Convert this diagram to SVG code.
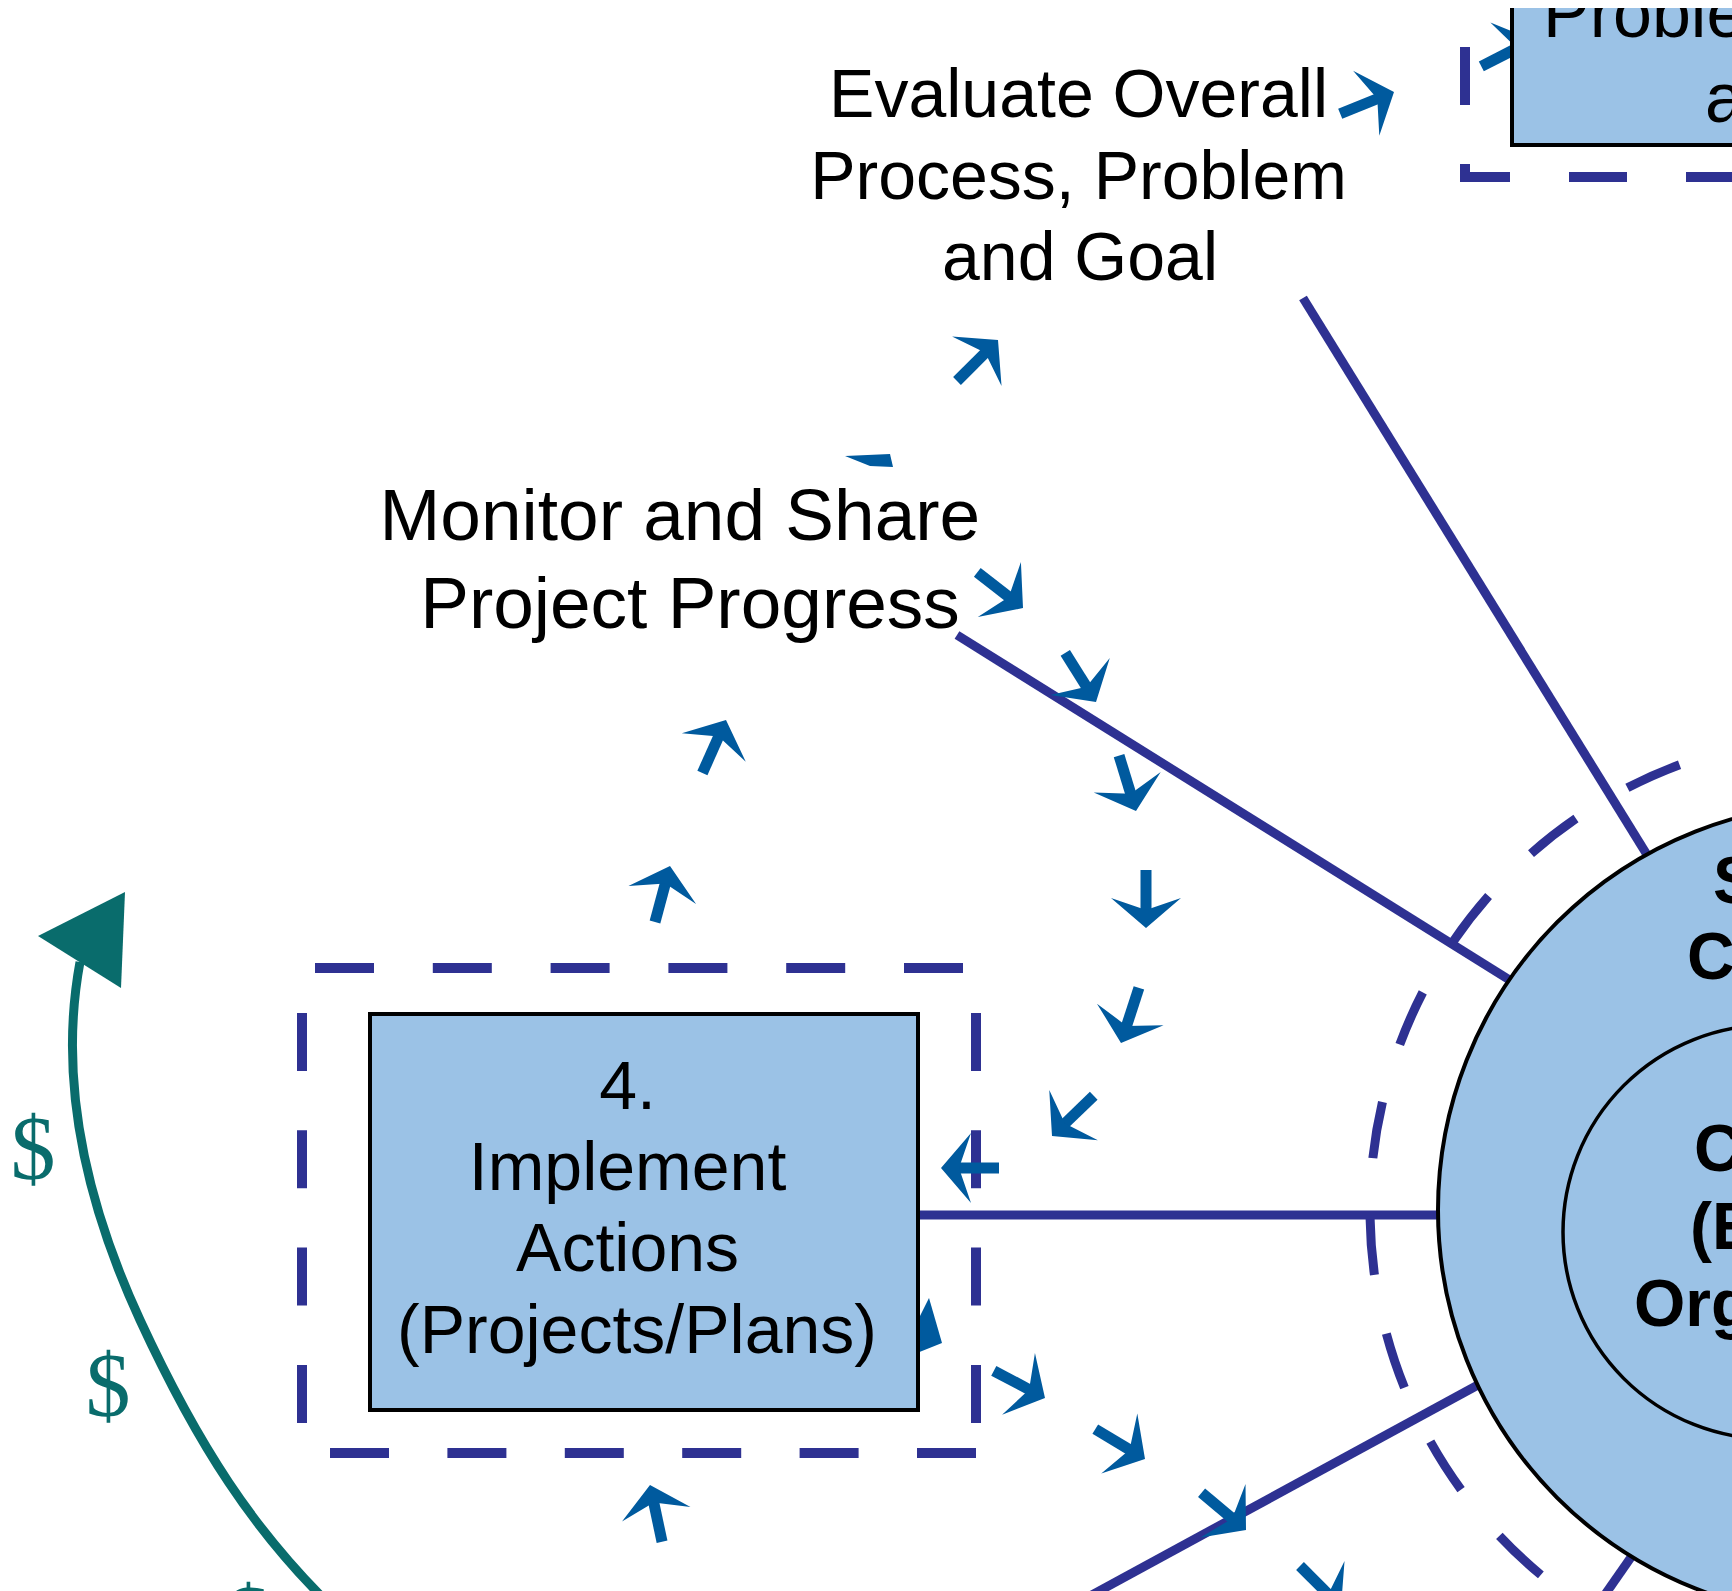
<svg xmlns="http://www.w3.org/2000/svg" width="1732" height="1591" viewBox="0 0 1732 1591">
<style>
.lbl{font-family:"Liberation Sans",Arial,sans-serif;fill:#000}
.bold{font-family:"Liberation Sans",Arial,sans-serif;font-weight:bold;fill:#000;font-size:66px}
.box{fill:#9BC2E6;stroke:#000;stroke-width:4}
.dash{fill:none;stroke:#2E3192;stroke-width:10}
.conn{fill:none;stroke:#2E3192;stroke-width:9}
.arr{fill:#005A9E}
.teal{fill:none;stroke:#096C6C;stroke-width:9}
.dollar{font-family:"Liberation Serif","DejaVu Serif",serif;fill:#096C6C;font-size:90px;text-anchor:middle}
</style>
<defs>
<g id="arrow"><rect x="-58" y="-5.5" width="42" height="11"/><polygon points="0,0 -30,-35 -18,0 -30,35"/></g>
<clipPath id="topclip"><rect x="0" y="8" width="1732" height="1583"/></clipPath>
</defs>
<rect width="1732" height="1591" fill="#fff"/>

<g id="community-boundary">
<circle cx="1845" cy="1210" r="475" fill="none" stroke="#2E3192" stroke-width="9" stroke-dasharray="57 60" stroke-dashoffset="94"/>
</g>

<g id="connectors">
<line class="conn" x1="1303" y1="298" x2="1670" y2="892"/>
<line class="conn" x1="957" y1="635" x2="1540" y2="999"/>
<line class="conn" x1="918" y1="1215" x2="1460" y2="1215"/>
<line class="conn" x1="1090" y1="1596" x2="1500" y2="1373"/>
<line class="conn" x1="1604" y1="1596" x2="1650" y2="1530"/>
</g>

<g id="stakeholder-circle">
<circle cx="1845" cy="1210" r="407" fill="#9BC2E6" stroke="#000" stroke-width="4"/>
<text class="bold" x="1713" y="903">S</text>
<text class="bold" x="1687" y="979">C</text>
</g>
<g id="core-circle">
<circle cx="1770" cy="1232" r="207" fill="#9BC2E6" stroke="#000" stroke-width="3.5"/>
<text class="bold" x="1694" y="1171">C</text>
<text class="bold" x="1690" y="1249">(E</text>
<text class="bold" x="1634" y="1326">Org</text>
</g>

<g id="arrow-hidden-4" class="arr">
<polygon points="917,1353 919,1318 929,1298 942,1343"/>
</g>

<g id="step4">
<line class="dash" x1="315" y1="968" x2="963" y2="968" stroke-dasharray="59 58.8"/>
<line class="dash" x1="976" y1="1013" x2="976" y2="1423" stroke-dasharray="58 59.3"/>
<line class="dash" x1="302" y1="1013" x2="302" y2="1423" stroke-dasharray="58 59.3"/>
<line class="dash" x1="330" y1="1453" x2="976" y2="1453" stroke-dasharray="59 58.4"/>
<rect class="box" x="370" y="1014" width="548" height="396"/>
<text class="lbl" font-size="68" text-anchor="middle">
<tspan x="637" y="1109">4.</tspan>
<tspan x="637" y="1190">Implement</tspan>
<tspan x="637" y="1271">Actions</tspan>
<tspan x="637" y="1353">(Projects/Plans)</tspan>
</text>
</g>

<g id="step-problem" clip-path="url(#topclip)">
<path class="dash" d="M1465 -60 V177 H1800" stroke-dasharray="58 59" stroke-dashoffset="10"/>
<use href="#arrow" class="arr" transform="translate(1533 40) rotate(-27)"/>
<rect class="box" x="1512" y="-20" width="260" height="165"/>
<text class="lbl" font-size="70" x="1543" y="37">Proble</text>
<text class="lbl" font-size="70" x="1705" y="122">a</text>
</g>

<g id="label-evaluate">
<text class="lbl" font-size="68" text-anchor="middle">
<tspan x="1088" y="117">Evaluate Overall</tspan>
<tspan x="1088" y="199">Process, Problem</tspan>
<tspan x="1080" y="280">and Goal</tspan>
</text>
</g>
<g id="label-monitor">
<text class="lbl" font-size="73" text-anchor="middle">
<tspan x="690" y="540">Monitor and Share</tspan>
<tspan x="690" y="628">Project Progress</tspan>
</text>
</g>

<g id="flow-arrows" class="arr">
<use href="#arrow" transform="translate(1394 92) rotate(-22)"/>
<use href="#arrow" transform="translate(998 340) rotate(-45)"/>
<polygon points="845,456 890,454 893,467 870,466"/>
<use href="#arrow" transform="translate(1023 608) rotate(38)"/>
<use href="#arrow" transform="translate(1096 702) rotate(58)"/>
<use href="#arrow" transform="translate(1136 811) rotate(73)"/>
<use href="#arrow" transform="translate(1146 928) rotate(90)"/>
<use href="#arrow" transform="translate(1121 1043) rotate(108)"/>
<use href="#arrow" transform="translate(1052 1136) rotate(136)"/>
<use href="#arrow" transform="translate(941 1168) rotate(180)"/>
<use href="#arrow" transform="translate(1045 1398) rotate(28)"/>
<use href="#arrow" transform="translate(1145 1459) rotate(31)"/>
<use href="#arrow" transform="translate(1246 1530) rotate(40)"/>
<use href="#arrow" transform="translate(1341 1607) rotate(45)"/>
<use href="#arrow" transform="translate(670 866) rotate(-75)"/>
<use href="#arrow" transform="translate(726 720) rotate(-66)"/>
<use href="#arrow" transform="translate(650 1485) rotate(-102)"/>
</g>

<g id="funding-flow">
<path class="teal" d="M80 962 C60 1070 80 1190 140 1320 S255 1530 325 1600"/>
<polygon points="38,936 125,892 121,988" fill="#096C6C"/>
<text class="dollar" x="33" y="1179">$</text>
<text class="dollar" x="108" y="1416">$</text>
<text class="dollar" x="248" y="1648">$</text>
</g>
</svg>
